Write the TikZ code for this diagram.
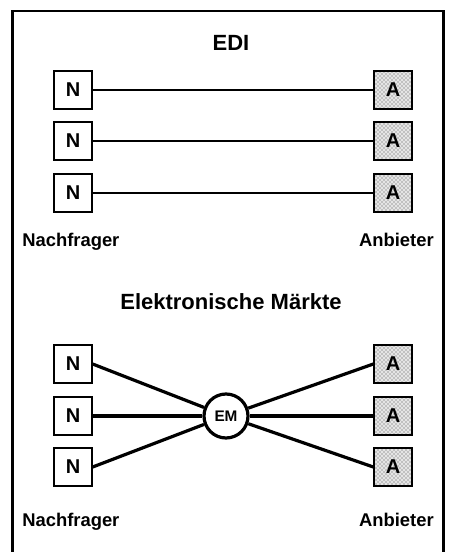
\documentclass[tikz,border=0pt]{standalone}
\usepackage{fontspec}
\setmainfont{Liberation Sans}
\usetikzlibrary{patterns}
\begin{document}
\begin{tikzpicture}[x=0.75pt,y=-0.75pt,
  party/.style={draw,line width=1.5pt,minimum size=28pt,inner sep=0pt,
    font=\fontsize{15}{15}\selectfont\bfseries},
  nbox/.style={party,fill=white},
  abox/.style={party,preaction={fill=black!10},pattern=crosshatch dots,
    pattern color=black!70},
  title/.style={font=\fontsize{16.5}{16.5}\selectfont\bfseries},
  label/.style={font=\fontsize{13.8}{13.8}\selectfont\bfseries,inner sep=0pt},
  thin link/.style={line width=2pt},
  thick link/.style={line width=2.4pt},
  hub/.style={circle,draw,line width=2.4pt,minimum size=33pt,inner sep=0pt,
    fill=white,font=\fontsize{11.5}{11.5}\selectfont\bfseries}]
\useasboundingbox (0,0) rectangle (450,552);
% outer frame, open at the foot of the page
\begin{scope}
  \clip (0,0) rectangle (450,552);
  \draw[line width=1.6pt] (12.5,570) -- (12.5,11) -- (443.5,11) -- (443.5,570);
\end{scope}

% EDI: one fixed line per pair
\node[title] (t1) at (231,43) {EDI};
\foreach \i/\y in {1/90,2/141,3/193}{
  \node[nbox] (n\i) at (73,\y) {N};
  \node[abox] (a\i) at (393,\y) {A};
  \draw[thin link] (n\i.east) -- (a\i.west);
}
\node[label,anchor=base west] (l1) at (22,246) {Nachfrager};
\node[label,anchor=base east] (r1) at (434,246) {Anbieter};

% electronic market: all parties meet at one hub
\node[title] (t2) at (231,302) {Elektronische Märkte};
\node[hub] (em) at (226,416) {EM};
\foreach \i/\y in {1/364,2/416,3/467}{
  \node[nbox] (m\i) at (73,\y) {N};
  \node[abox] (b\i) at (393,\y) {A};
  \draw[thick link] (m\i.east) -- (em);
  \draw[thick link] (em) -- (b\i.west);
}
\node[label,anchor=base west] (l2) at (22,526) {Nachfrager};
\node[label,anchor=base east] (r2) at (434,526) {Anbieter};
\end{tikzpicture}
\end{document}
